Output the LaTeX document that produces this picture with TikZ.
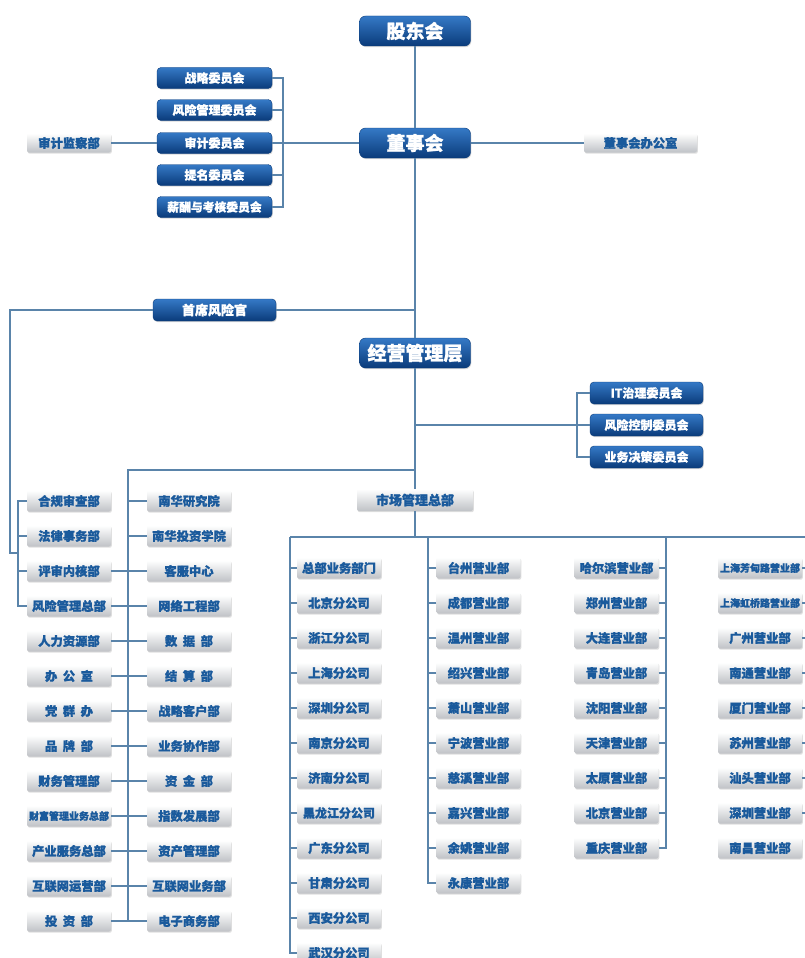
\documentclass[tikz,border=0pt]{standalone}
\usepackage{fontspec}
\setmainfont{Noto Sans CJK SC}[BoldFeatures={FakeBold=1.2}]
\usetikzlibrary{shadows}
\definecolor{lnc}{HTML}{5A84AA}
\definecolor{bltop}{HTML}{3579C6}
\definecolor{blbot}{HTML}{0A3B7A}
\definecolor{gtxt}{HTML}{1A5A9C}
\definecolor{gbot}{HTML}{BFC2C6}
\newcommand{\gs}{\hspace{0.45em}}
\tikzset{
  ln/.style={draw=lnc, line width=1.2pt},
  fs/.style={font=\bfseries\fontsize{#1}{#1}\selectfont},
  bbox/.style={rounded corners=4pt, top color=bltop, bottom color=blbot, draw=blbot, line width=0.4pt,
    text=white, fs=12, minimum width=115pt, minimum height=21pt, inner sep=0pt,
    drop shadow={opacity=0.3, shadow xshift=0.8pt, shadow yshift=-1.2pt}},
  bigbox/.style={bbox, rounded corners=6pt, minimum width=111pt, minimum height=30pt, fs=19},
  gbox/.style={rounded corners=2pt, top color=white, bottom color=gbot, draw=none,
    text=gtxt, fs=12.3, minimum width=84pt, minimum height=21pt, inner sep=0pt,
    drop shadow={opacity=0.25, shadow xshift=0.8pt, shadow yshift=-1.2pt}},
}
\begin{document}
\begin{tikzpicture}[x=1pt, y=-1pt]
\useasboundingbox (0,0) rectangle (804,958);
\fill[white] (0,0) rectangle (804,958);

% ---------- top ----------
\node[bigbox] (gd) at (415,31) {股东会};
\node[bigbox] (ds) at (415,143) {董事会};
\node[bigbox] (jy) at (415,353) {经营管理层};

\node[bbox] (c1) at (214.5,78) {战略委员会};
\node[bbox] (c2) at (214.5,110) {风险管理委员会};
\node[bbox] (c3) at (214.5,143) {审计委员会};
\node[bbox] (c4) at (214.5,175) {提名委员会};
\node[bbox, fs=11.8] (c5) at (214.5,207) {薪酬与考核委员会};

\node[gbox, minimum height=19pt] (sj) at (69,143) {审计监察部};
\node[gbox, minimum width=113pt, minimum height=19pt] (dsb) at (640.5,143) {董事会办公室};

\node[bbox, minimum width=123pt, minimum height=22pt, fs=13] (cro) at (214.5,310) {首席风险官};

\node[bbox, minimum width=113pt, minimum height=22pt] (it1) at (646.5,393) {IT治理委员会};
\node[bbox, minimum width=113pt, minimum height=22pt] (it2) at (646.5,425) {风险控制委员会};
\node[bbox, minimum width=113pt, minimum height=22pt] (it3) at (646.5,457) {业务决策委员会};

\node[gbox, minimum width=116pt, minimum height=22pt, fs=13] (sc) at (415,500) {市场管理总部};

% coordinates
\coordinate (cbx) at (283,0);
\coordinate (itx) at (577,0);
\coordinate (t310) at (415,310);
\coordinate (t425) at (415,425);
\coordinate (t470) at (415,470);
\coordinate (l310) at (10,310);
\coordinate (l553) at (10,553);
\coordinate (b553) at (18,553);
\coordinate (lbx) at (18,0);
\coordinate (mx) at (128,0);
\coordinate (m470) at (128,470);
\coordinate (m920) at (128,921);
\coordinate (s537) at (415,537);
\coordinate (h290) at (290,537);
\coordinate (h806) at (806,537);

% ---------- top connectors ----------
\draw[ln] (gd) -- (ds);
\draw[ln] (ds.south) -- (jy.north);
\draw[ln] (jy.south) -- (sc.north);
\draw[ln] (sc.south) -- (s537);
\draw[ln] (ds.east) -- (dsb.west);
\draw[ln] (sj.east) -- (c3.west);
\draw[ln] (c3.east) -- (ds.west);
\draw[ln] (c1.east) -- (c1.east -| cbx) -- (c5.east -| cbx) -- (c5.east);
\foreach \c in {c2,c3,c4} \draw[ln] (\c.east) -- (\c.east -| cbx);
\draw[ln] (cro.east) -- (t310);
\draw[ln] (cro.west) -- (l310) -- (l553) -- (b553);
\draw[ln] (t425) -- (it2.west -| itx);
\draw[ln] (it1.west) -- (it1.west -| itx) -- (it3.west -| itx) -- (it3.west);
\draw[ln] (it2.west) -- (it2.west -| itx);
\draw[ln] (t470) -- (m470) -- (m920);

% ---------- left two columns ----------
\foreach \i/\t/\s in {1/合规审查部/12.3, 2/法律事务部/12.3, 3/评审内核部/12.3, 4/风险管理总部/12.3,
  5/人力资源部/12.3, 6/办\gs 公\gs 室/12.3, 7/党\gs 群\gs 办/12.3, 8/品\gs 牌\gs 部/12.3,
  9/财务管理部/12.3, 10/财富管理业务总部/10, 11/产业服务总部/12.3, 12/互联网运营部/12.3, 13/投\gs 资\gs 部/12.3}
  \node[gbox, fs=\s] (L\i) at (69,{501+35*(\i-1)}) {\t};
\foreach \i/\t in {1/南华研究院, 2/南华投资学院, 3/客服中心, 4/网络工程部, 5/数\gs 据\gs 部,
  6/结\gs 算\gs 部, 7/战略客户部, 8/业务协作部, 9/资\gs 金\gs 部, 10/指数发展部, 11/资产管理部,
  12/互联网业务部, 13/电子商务部}
  \node[gbox] (R\i) at (189,{501+35*(\i-1)}) {\t};
\foreach \i in {1,...,13} \draw[ln] (R\i.west) -- (R\i.west -| mx);
\foreach \i in {3,...,13} \draw[ln] (L\i.east) -- (L\i.east -| mx);
\draw[ln] (L1.west) -- (L1.west -| lbx) -- (L4.west -| lbx) -- (L4.west);
\foreach \i in {2,3} \draw[ln] (L\i.west) -- (L\i.west -| lbx);

% ---------- market columns ----------
\draw[ln] (h290) -- (h806);
\foreach \i/\t/\s in {1/总部业务部门/12.3, 2/北京分公司/12.3, 3/浙江分公司/12.3, 4/上海分公司/12.3,
  5/深圳分公司/12.3, 6/南京分公司/12.3, 7/济南分公司/12.3, 8/黑龙江分公司/12, 9/广东分公司/12.3,
  10/甘肃分公司/12.3, 11/西安分公司/12.3, 12/武汉分公司/12.3}
  \node[gbox, fs=\s] (A\i) at (339,{568+35*(\i-1)}) {\t};
\foreach \i/\t in {1/台州营业部, 2/成都营业部, 3/温州营业部, 4/绍兴营业部, 5/萧山营业部,
  6/宁波营业部, 7/慈溪营业部, 8/嘉兴营业部, 9/余姚营业部, 10/永康营业部}
  \node[gbox] (B\i) at (478.5,{568+35*(\i-1)}) {\t};
\foreach \i/\t in {1/哈尔滨营业部, 2/郑州营业部, 3/大连营业部, 4/青岛营业部, 5/沈阳营业部,
  6/天津营业部, 7/太原营业部, 8/北京营业部, 9/重庆营业部}
  \node[gbox] (C\i) at (616.5,{568+35*(\i-1)}) {\t};
\foreach \i/\t/\s in {1/上海芳甸路营业部/10, 2/上海虹桥路营业部/10, 3/广州营业部/12.3, 4/南通营业部/12.3,
  5/厦门营业部/12.3, 6/苏州营业部/12.3, 7/汕头营业部/12.3, 8/深圳营业部/12.3, 9/南昌营业部/12.3}
  \node[gbox, fs=\s] (D\i) at (760,{568+35*(\i-1)}) {\t};

\coordinate (ax) at (290,0);
\coordinate (bx) at (428,0);
\coordinate (cx) at (666,0);
\coordinate (dx) at (806,0);
\coordinate (b537) at (428,537);
\coordinate (c537) at (666,537);
\draw[ln] (h290) -- (A12.west -| ax) -- (A12.west);
\foreach \i in {1,...,11} \draw[ln] (A\i.west) -- (A\i.west -| ax);
\draw[ln] (b537) -- (B10.west -| bx) -- (B10.west);
\foreach \i in {1,...,9} \draw[ln] (B\i.west) -- (B\i.west -| bx);
\draw[ln] (c537) -- (C9.east -| cx) -- (C9.east);
\foreach \i in {1,...,8} \draw[ln] (C\i.east) -- (C\i.east -| cx);
\foreach \i in {1,...,8} \draw[ln] (D\i.east) -- (D\i.east -| dx);
\end{tikzpicture}
\end{document}
